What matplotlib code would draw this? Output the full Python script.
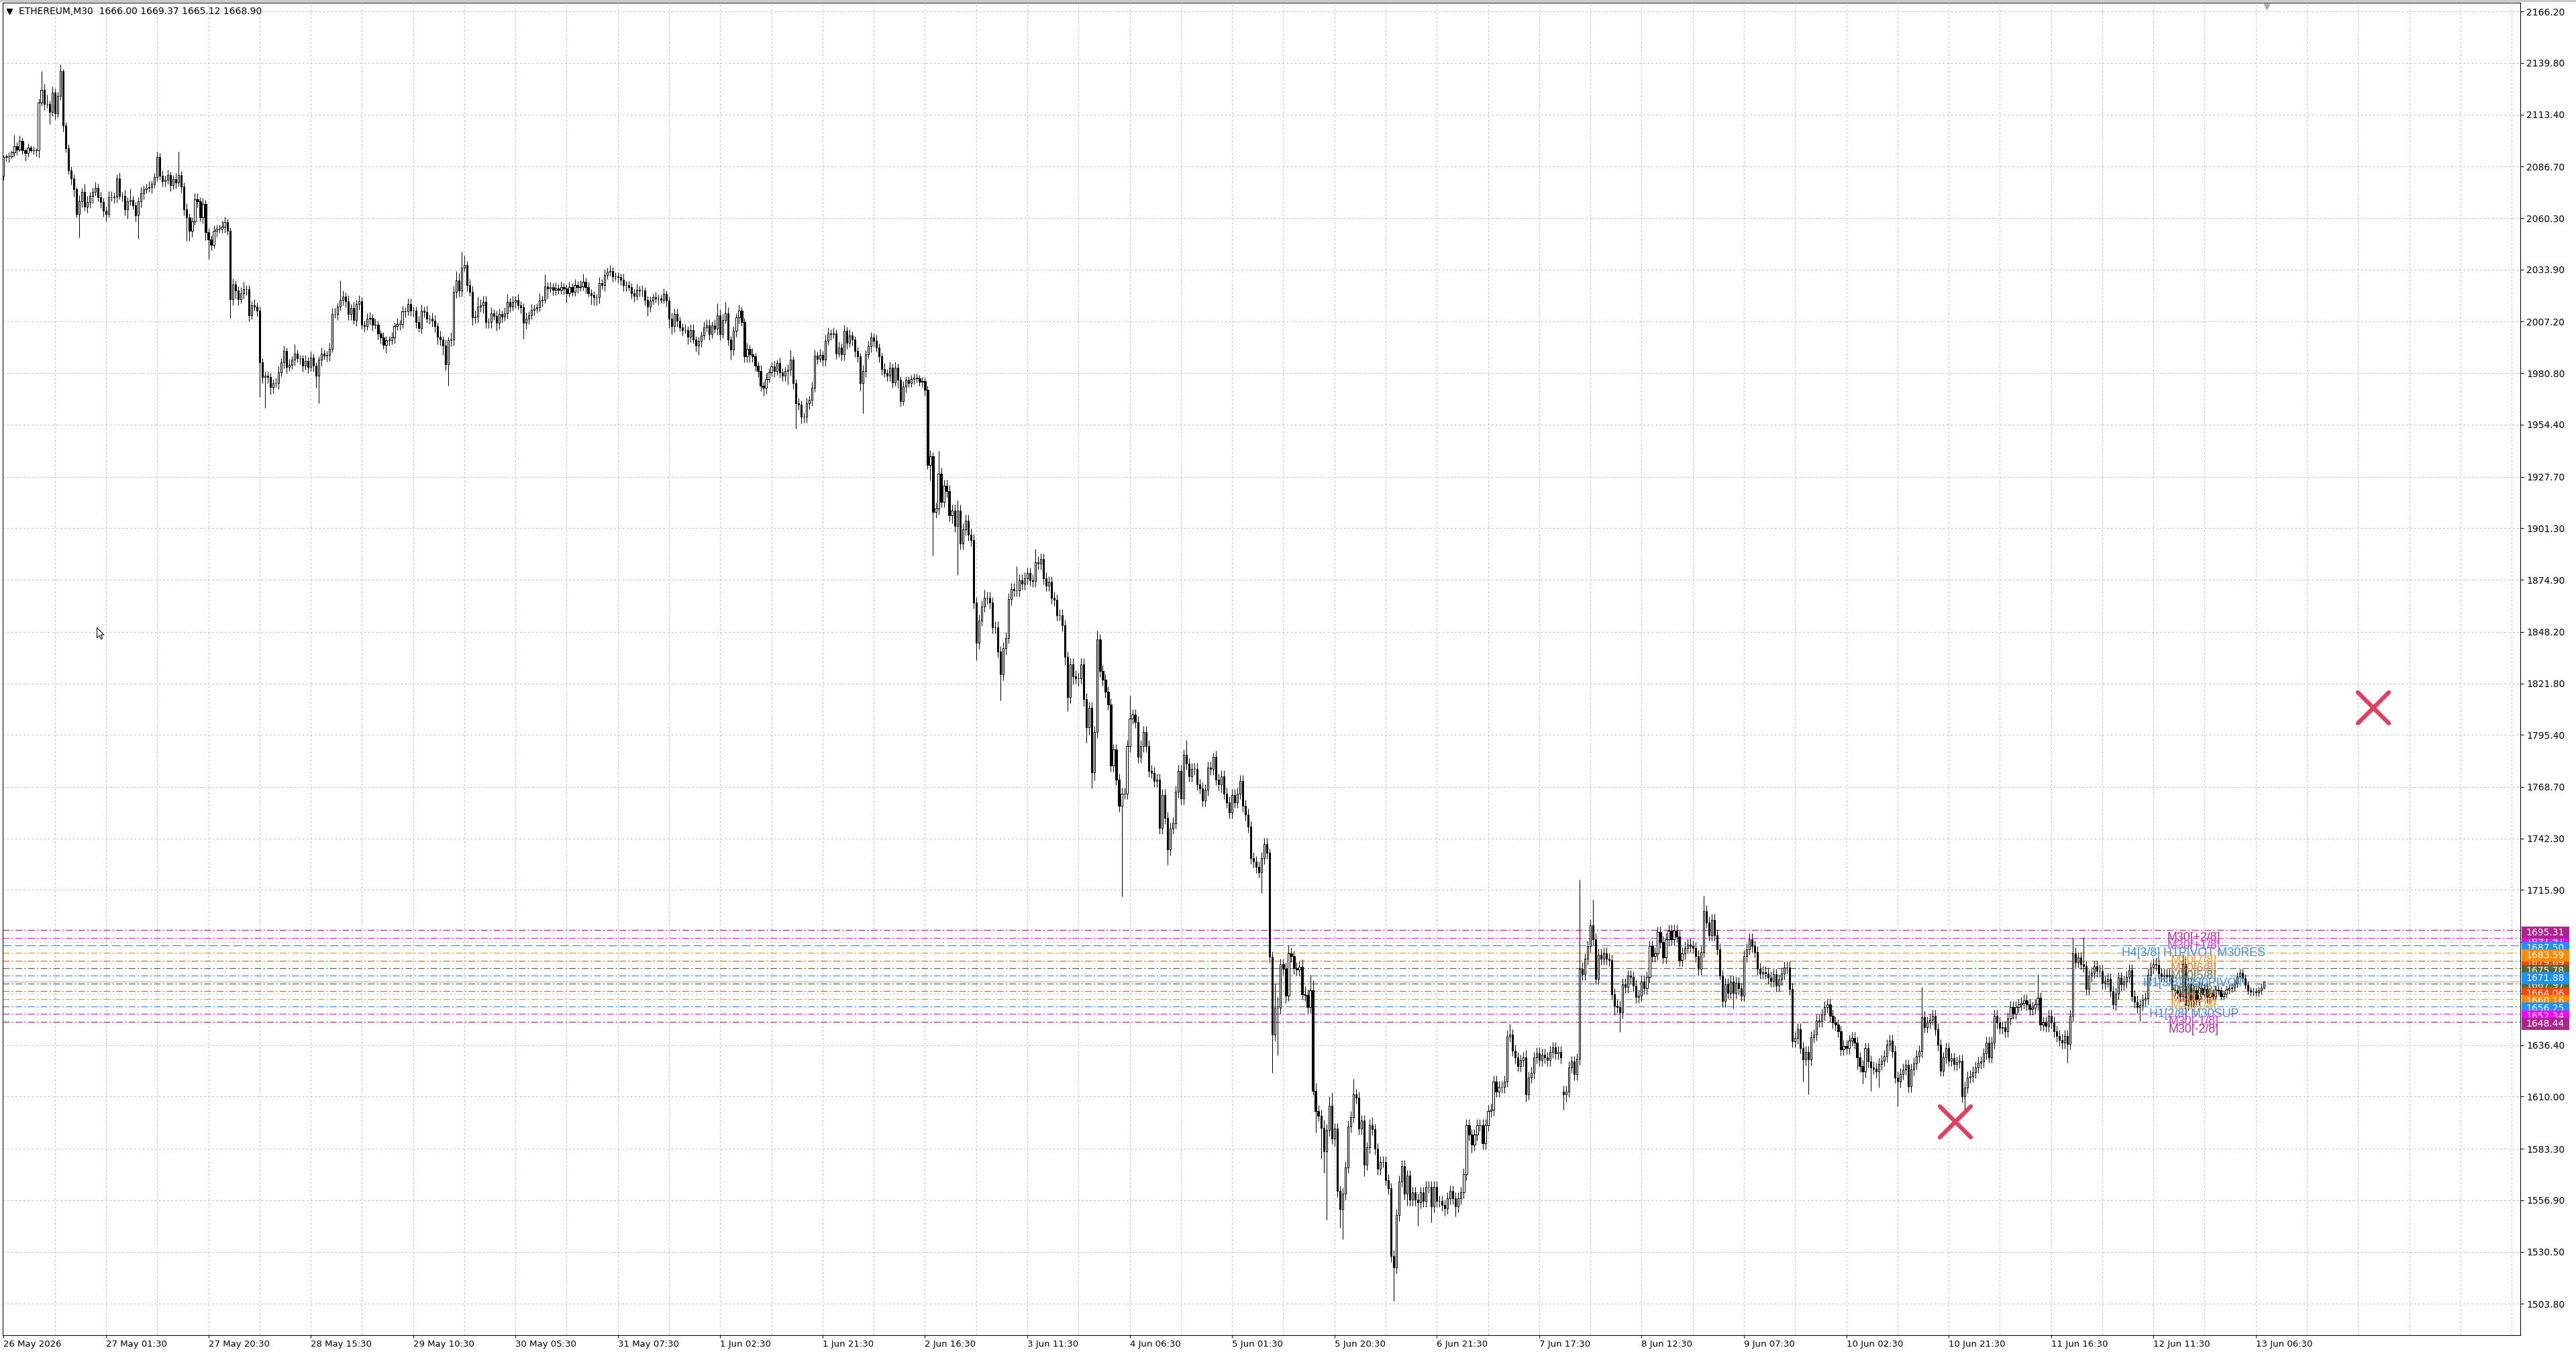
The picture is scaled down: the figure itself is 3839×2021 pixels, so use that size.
import numpy as np
import matplotlib
matplotlib.use("Agg")
import matplotlib.pyplot as plt
import matplotlib.transforms as mtransforms
from matplotlib.markers import MarkerStyle
from matplotlib.patches import Rectangle
from matplotlib.path import Path

# ---- chart data (ETHEREUM, M30) ----
symbol = "ETHEREUM,M30"
last_ohlc = [1666.00, 1669.37, 1665.12, 1668.90]
first_open = 2082.0
gap_opens = {579: 1612.5}

closes = [
    2091.7, 2092.0, 2092.0, 2094.0, 2097.0, 2095.5, 2099.7, 2094.9, 2093.6, 2096.5, 2095.0, 2095.0, 2094.9, 2119.6, 2126.0, 2118.6, 2118.6, 2114.5, 2124.7, 2114.0,
    2122.8, 2135.5, 2107.6, 2096.0, 2084.7, 2080.5, 2075.2, 2062.5, 2068.9, 2073.7, 2066.0, 2068.6, 2071.7, 2073.7, 2075.8, 2070.8, 2068.6, 2064.0, 2062.5, 2071.0,
    2071.0, 2071.3, 2080.7, 2071.8, 2071.8, 2064.8, 2068.9, 2069.5, 2066.7, 2061.6, 2068.9, 2073.0, 2075.2, 2075.8, 2076.1, 2077.7, 2081.3, 2091.5, 2081.8, 2079.3,
    2080.0, 2082.2, 2077.0, 2080.3, 2078.6, 2082.4, 2076.5, 2064.7, 2060.6, 2053.6, 2058.7, 2070.1, 2068.9, 2060.6, 2067.6, 2053.0, 2049.2, 2046.7, 2053.6, 2054.9,
    2054.9, 2055.8, 2058.1, 2053.6, 2018.7, 2026.3, 2023.2, 2018.7, 2021.9, 2023.8, 2023.8, 2010.5, 2015.6, 2014.9, 2013.0, 1986.4, 1978.8, 1979.4, 1978.8, 1973.7,
    1975.6, 1975.6, 1981.3, 1986.4, 1992.1, 1983.8, 1985.0, 1987.6, 1990.8, 1988.3, 1988.3, 1984.5, 1987.0, 1983.8, 1988.9, 1984.5, 1979.4, 1987.6, 1990.8, 1989.8,
    1990.2, 1993.4, 2011.1, 2011.1, 2014.9, 2018.5, 2020.0, 2017.7, 2011.1, 2014.3, 2007.9, 2016.2, 2017.7, 2005.6, 2004.8, 2008.6, 2009.0, 2005.6, 2005.6, 2001.0,
    1999.0, 1995.3, 1997.8, 1997.8, 1999.0, 2004.8, 2006.0, 2006.0, 2012.4, 2012.4, 2016.2, 2013.0, 2012.8, 2007.0, 2004.0, 2012.8, 2012.3, 2008.8, 2008.8, 2007.6,
    2004.8, 1999.6, 1997.9, 1995.0, 1985.3, 1997.6, 1998.0, 2022.5, 2028.2, 2023.0, 2035.0, 2036.2, 2025.9, 2022.5, 2009.3, 2009.8, 2015.0, 2015.6, 2017.3, 2007.0,
    2007.0, 2011.6, 2010.0, 2006.5, 2011.0, 2009.8, 2011.6, 2017.3, 2015.0, 2017.3, 2018.5, 2015.6, 2014.5, 2006.5, 2008.8, 2010.5, 2013.3, 2013.9, 2014.5, 2017.9,
    2018.5, 2025.3, 2024.2, 2024.8, 2023.6, 2024.2, 2023.6, 2024.8, 2024.2, 2021.9, 2024.8, 2022.5, 2025.9, 2024.8, 2025.3, 2027.6, 2024.8, 2021.9, 2020.8, 2019.6,
    2019.6, 2027.0, 2025.9, 2031.0, 2032.8, 2033.3, 2030.5, 2030.3, 2029.9, 2028.8, 2025.9, 2025.9, 2025.0, 2021.9, 2020.4, 2023.6, 2023.0, 2023.0, 2018.5, 2015.0,
    2017.9, 2019.6, 2019.0, 2019.0, 2018.5, 2021.3, 2017.9, 2008.8, 2004.8, 2011.0, 2007.6, 2004.2, 2003.0, 2003.0, 1999.6, 2003.0, 1997.9, 1995.0, 1997.3, 2000.2,
    2004.2, 2005.3, 2000.8, 2005.3, 2003.6, 2010.5, 2000.8, 2008.2, 2011.6, 1997.9, 1992.8, 2002.5, 2009.3, 2012.8, 2007.0, 1989.3, 1993.3, 1990.5, 1989.3, 1984.8,
    1981.9, 1974.5, 1973.3, 1977.9, 1981.3, 1984.2, 1981.9, 1985.9, 1981.3, 1979.6, 1981.9, 1982.5, 1987.6, 1975.6, 1965.3, 1964.8, 1958.5, 1958.5, 1965.3, 1967.0,
    1973.3, 1989.9, 1988.2, 1990.2, 1987.6, 1997.3, 2001.3, 2000.8, 2001.3, 1991.0, 1993.9, 1990.5, 2002.5, 1996.2, 2000.2, 1997.9, 1992.2, 1989.3, 1975.6, 1981.9,
    1990.5, 1994.5, 1999.0, 1997.3, 1993.9, 1989.3, 1983.0, 1980.8, 1979.6, 1983.6, 1976.2, 1983.6, 1977.3, 1966.5, 1973.9, 1977.3, 1975.6, 1977.9, 1978.5, 1978.0,
    1976.5, 1976.8, 1972.2, 1933.8, 1938.3, 1909.7, 1911.4, 1929.4, 1915.0, 1923.1, 1920.4, 1907.9, 1910.5, 1902.5, 1910.5, 1893.5, 1900.7, 1905.2, 1898.0, 1895.3,
    1863.1, 1842.5, 1854.1, 1861.3, 1865.7, 1865.7, 1863.1, 1850.5, 1850.5, 1838.0, 1826.3, 1839.8, 1845.1, 1864.9, 1870.2, 1869.3, 1869.3, 1874.7, 1872.9, 1875.6,
    1878.3, 1874.7, 1874.2, 1884.0, 1883.1, 1885.5, 1875.6, 1872.0, 1873.8, 1865.7, 1864.5, 1856.8, 1856.8, 1851.4, 1835.3, 1814.7, 1831.7, 1825.4, 1824.5, 1824.5,
    1831.7, 1813.8, 1799.4, 1809.3, 1776.1, 1796.8, 1844.2, 1828.1, 1823.6, 1817.4, 1811.1, 1779.7, 1787.8, 1772.6, 1759.1, 1765.4, 1765.4, 1789.6, 1803.9, 1805.7,
    1802.1, 1784.2, 1789.6, 1796.8, 1789.6, 1777.0, 1776.0, 1771.7, 1772.6, 1747.6, 1764.5, 1752.8, 1736.7, 1747.5, 1750.2, 1766.3, 1777.0, 1762.7, 1785.1, 1780.6,
    1774.3, 1777.9, 1777.9, 1769.9, 1768.1, 1761.8, 1767.2, 1778.8, 1777.9, 1784.2, 1772.6, 1769.9, 1774.3, 1765.4, 1760.9, 1755.5, 1764.5, 1760.9, 1765.4, 1771.7,
    1759.1, 1754.6, 1748.3, 1732.2, 1730.4, 1727.6, 1725.1, 1732.2, 1739.4, 1734.9, 1681.5, 1641.8, 1655.6, 1655.6, 1677.8, 1675.4, 1661.8, 1683.4, 1681.9, 1675.8,
    1675.2, 1676.4, 1662.5, 1661.9, 1655.7, 1664.5, 1612.9, 1602.7, 1600.3, 1594.1, 1581.8, 1592.9, 1605.2, 1588.6, 1593.5, 1561.5, 1552.2, 1560.2, 1573.8, 1594.7,
    1599.6, 1611.0, 1609.5, 1593.5, 1597.6, 1575.2, 1583.9, 1595.4, 1593.2, 1583.2, 1573.0, 1576.6, 1576.6, 1567.3, 1562.9, 1528.3, 1522.5, 1549.2, 1566.6, 1574.5,
    1560.1, 1569.4, 1557.2, 1560.8, 1557.2, 1555.7, 1560.8, 1556.4, 1563.7, 1563.7, 1553.6, 1563.7, 1556.4, 1556.4, 1554.3, 1552.8, 1557.9, 1561.5, 1557.9, 1553.6,
    1557.9, 1560.8, 1570.2, 1595.4, 1590.4, 1585.3, 1590.4, 1595.4, 1595.4, 1586.0, 1595.4, 1602.6, 1603.3, 1617.8, 1612.7, 1614.9, 1614.9, 1617.8, 1640.9, 1641.6,
    1633.6, 1630.0, 1625.7, 1628.6, 1630.0, 1611.3, 1619.9, 1622.1, 1630.0, 1632.2, 1628.6, 1631.5, 1630.0, 1628.6, 1632.9, 1635.1, 1632.2, 1632.9, 1630.0, 1611.3,
    1612.7, 1625.0, 1627.9, 1621.4, 1629.3, 1675.5, 1672.6, 1680.5, 1687.0, 1697.9, 1690.6, 1670.4, 1682.7, 1680.5, 1683.4, 1680.5, 1679.8, 1662.5, 1656.7, 1656.0,
    1653.1, 1667.6, 1666.1, 1671.9, 1671.2, 1666.8, 1661.1, 1661.8, 1669.0, 1665.4, 1671.2, 1687.0, 1682.0, 1683.4, 1694.3, 1689.2, 1681.3, 1690.6, 1695.0, 1690.6,
    1695.0, 1692.1, 1679.8, 1683.4, 1686.3, 1687.8, 1687.0, 1686.3, 1682.0, 1675.5, 1684.2, 1705.1, 1699.3, 1692.8, 1700.7, 1692.8, 1685.6, 1671.9, 1658.9, 1667.6,
    1663.2, 1669.0, 1663.2, 1668.3, 1665.4, 1661.8, 1682.0, 1685.6, 1690.6, 1687.0, 1684.2, 1675.5, 1673.2, 1673.8, 1673.2, 1671.0, 1669.2, 1672.6, 1666.9, 1669.8,
    1673.0, 1676.1, 1676.1, 1665.2, 1638.2, 1640.0, 1644.5, 1635.0, 1629.1, 1633.0, 1629.0, 1640.5, 1641.6, 1649.1, 1648.5, 1652.0, 1656.0, 1657.1, 1651.4, 1648.0,
    1646.8, 1643.4, 1634.2, 1636.0, 1634.8, 1638.8, 1640.0, 1637.7, 1630.0, 1625.6, 1622.7, 1634.8, 1628.0, 1625.0, 1624.4, 1622.7, 1626.7, 1628.5, 1630.8, 1636.5,
    1638.8, 1633.1, 1619.9, 1617.6, 1621.6, 1624.0, 1626.2, 1615.3, 1623.9, 1627.0, 1630.8, 1633.1, 1650.8, 1645.7, 1648.0, 1649.5, 1651.4, 1644.5, 1636.5, 1623.3,
    1630.0, 1634.8, 1628.5, 1629.6, 1626.7, 1627.5, 1628.5, 1610.1, 1614.7, 1619.9, 1620.4, 1622.5, 1625.0, 1627.3, 1627.9, 1632.0, 1637.6, 1630.2, 1637.6, 1651.4,
    1648.0, 1645.1, 1645.7, 1643.4, 1650.0, 1656.0, 1652.6, 1656.0, 1657.1, 1658.0, 1659.4, 1657.1, 1654.9, 1655.5, 1657.1, 1660.6, 1646.8, 1648.0, 1646.3, 1651.4,
    1648.0, 1643.4, 1641.1, 1639.0, 1637.6, 1641.1, 1637.1, 1651.4, 1683.5, 1679.0, 1681.2, 1678.0, 1676.7, 1665.2, 1672.1, 1673.5, 1676.7, 1674.4, 1674.4, 1668.1,
    1669.2, 1670.3, 1664.0, 1657.2, 1662.9, 1670.9, 1667.5, 1669.0, 1671.5, 1674.9, 1661.5, 1658.6, 1655.7, 1657.0, 1659.5, 1660.3, 1672.4, 1676.0, 1678.0, 1677.5,
    1673.2, 1671.8, 1672.4, 1671.8, 1672.4, 1664.9, 1664.3, 1663.2, 1661.5, 1678.0, 1657.0, 1668.0, 1659.0, 1664.5, 1660.0, 1666.0, 1662.5, 1665.0, 1661.0, 1663.0,
    1661.5, 1664.9, 1664.3, 1661.5, 1662.6, 1664.9, 1665.5, 1666.0, 1668.0, 1671.8, 1673.5, 1670.6, 1667.2, 1664.3, 1663.8, 1663.8, 1663.5, 1664.3, 1666.0, 1668.9,
]

# wick lengths above / below the body, in price units
upper_wick = [
    1, 1, 2, 1, 6, 2, 3, 2, 1, 2, 1, 2, 1, 2, 9.5, 3, 5, 2, 3, 2,
    2, 3.5, 1, 2, 2, 2, 2, 1, 3, 2, 4, 3, 2, 2, 3, 2, 3, 2, 2, 3,
    3, 2, 2, 3, 2, 3, 2, 6, 2, 2, 2, 3, 2, 2, 3, 2, 2, 2.7, 2, 3,
    2, 3, 2, 2, 3, 12, 2, 2, 3, 2, 2, 3, 3, 2, 3, 2, 2, 2, 3, 2,
    2, 3, 3, 2, 2, 3, 2, 2, 3, 3.8, 2, 2, 2, 3, 2, 2, 2, 2, 2, 2,
    2, 3, 3, 2, 3, 2, 3, 2, 5, 2, 2, 2, 3, 2, 3, 2, 2, 2, 3, 2,
    2, 3, 3, 3, 2, 9.7, 3, 2, 3, 2, 3, 2, 3, 2, 2, 3, 3, 2, 3, 2,
    2, 3, 2, 2, 3, 2, 3, 2, 3, 2, 3, 3, 2, 2, 3, 3, 2, 3, 2, 3,
    3, 2, 3, 2, 3, 2, 4, 3, 5, 4, 8, 5, 2, 3, 3, 3, 5, 3, 3, 3,
    2, 3, 2, 3, 3, 2, 3, 4, 2, 3, 2, 3, 2, 2, 3, 2, 3, 2, 2, 4,
    2, 6, 2, 3, 2, 3, 2, 3, 2, 2, 3, 2, 3, 2, 3, 4, 2, 3, 2, 2,
    2, 3, 2, 3, 2, 3, 2, 2, 2, 2, 3, 2, 2, 2, 2, 3, 2, 3, 2, 2,
    2, 2, 3, 2, 2, 3, 2, 2, 3, 3, 3, 2, 2, 3, 2, 3, 3, 2, 2, 2,
    3, 3, 3, 2, 3, 6, 3, 3, 5.7, 3, 2, 2, 2, 3, 2, 2, 3, 2, 3, 2,
    2, 3, 2, 3, 2, 2, 3, 2, 3, 2, 2, 3, 5, 2, 2, 3, 2, 2, 3, 2,
    3, 3, 2, 3, 2, 3, 3, 2, 3, 2, 3, 2, 3, 2, 3, 2, 2, 2, 2, 3,
    2, 3, 3, 2, 3, 2, 2, 3, 2, 3, 2, 3, 2, 2, 3, 2, 2, 2, 2, 2,
    2, 2, 2, 2, 3, 2, 3, 11.6, 3, 3, 3, 3, 3, 3, 5, 3, 3, 3, 3, 3,
    3, 3, 3, 3, 4, 3, 3, 3, 3, 3, 3, 3, 3, 3, 3, 3, 12.6, 3, 3, 3,
    3, 3, 3, 6.8, 3, 3, 3, 3, 3, 3, 3, 3, 3, 3, 3, 3, 3, 3, 3, 3,
    3, 3, 3, 3, 3, 3, 4.5, 3, 3, 3, 3, 3, 3, 3, 3, 3, 3, 3, 11.7, 3,
    3, 3, 3, 3, 3, 3, 3, 3, 3, 3, 3, 3, 3, 3, 3, 3, 3, 3, 3, 7.8,
    3, 3, 3, 3, 3, 3, 3, 3, 3, 2, 3, 3, 3, 3, 3, 3, 3, 3, 3, 3,
    3, 3, 3, 3, 3, 3, 3, 3, 3, 3, 2, 3, 12.4, 5.6, 3, 3, 3, 4, 3, 3,
    3, 3, 4, 4, 3, 8, 5, 4, 3, 3, 4, 3, 5, 7, 3, 3, 3, 3, 3, 3,
    3, 8, 3, 3, 3, 3, 3, 3, 4, 3, 3, 3, 3, 3, 3, 3, 3, 3, 3, 3,
    3, 3, 3, 3, 3, 3, 3, 3, 3, 3, 3, 3, 3, 3, 3, 3, 3, 3, 3, 3,
    3, 3, 3, 3, 3, 3, 3, 3, 3, 3, 3, 3, 3, 3, 3, 3, 3, 3, 3, 5.8,
    3, 3, 3, 3, 3, 4, 3, 3, 3, 3, 3, 3, 3, 3, 3, 3, 3, 3, 3, 3,
    3, 3, 3, 3, 3, 45.7, 3, 3, 3, 3, 12.9, 3, 3, 3, 3, 3, 3, 3, 3, 3,
    3, 3, 3, 3, 3, 3, 3, 3, 3, 3, 3, 3, 3, 3, 3, 3, 3, 3, 3, 3,
    3, 3, 3, 3, 3, 3, 3, 3, 3, 3, 3, 8, 3, 3, 3, 3, 3, 3, 3, 3,
    3, 3, 3, 3, 3, 3, 3, 3, 3, 3, 3, 3, 3, 3, 3, 3, 3, 3, 3, 3,
    3, 3, 3, 3, 3, 3, 3, 3, 3, 3, 3, 3, 3, 3, 3, 3, 3, 3, 3, 3,
    3, 3, 3, 3, 3, 3, 3, 3, 3, 3, 3, 3, 3, 3, 3, 3, 3, 3, 3, 3,
    3, 3, 3, 3, 3, 3, 3, 3, 3, 3, 3, 3, 15.5, 3, 3, 3, 3, 3, 3, 3,
    3, 3, 3, 3, 3, 3, 3, 3, 3, 3, 3, 3, 3, 3, 3, 3, 3, 3, 3, 3,
    3, 3, 3, 3, 3, 3, 3, 3, 3, 3, 3, 3, 3, 3, 3, 12, 3, 3, 3, 3,
    3, 3, 3, 3, 3, 3, 3, 3, 8.1, 3, 3, 3, 13.6, 3, 3, 3, 3, 3, 3, 3,
    3, 3, 3, 3, 3, 3, 3, 3, 3, 3, 3, 3, 3, 3, 3, 3, 3, 3, 3, 3,
    3, 3, 3, 3, 3, 3, 3, 3, 3, 5, 3, 3, 3, 3, 3, 3, 3, 3, 3, 3,
    2, 2, 2, 2, 2, 2, 2, 2, 2, 2, 2, 2, 2, 2, 2, 2, 2, 2, 2, 0.47,
]

lower_wick = [
    2, 2, 3, 1, 2, 3, 1, 2, 4, 2, 1, 2, 3, 3.6, 2, 3, 2, 6, 2, 3,
    2, 2, 3, 2, 2, 3, 4, 2, 12, 3, 2, 3, 3, 4, 2, 2, 3, 3, 4, 2,
    2, 3, 3, 2, 3, 3, 5, 2, 2, 3, 11.8, 3, 3, 2, 2, 3, 2, 2, 2, 3,
    3, 2, 3, 2, 3, 2, 3, 3, 12, 5, 3, 2, 3, 2, 3, 4, 10, 3, 2, 3,
    2, 2, 3, 2, 9.5, 3, 4, 3, 2, 3, 3, 3, 2, 2, 3, 17.8, 3, 15.8, 3, 4,
    3, 2, 3, 2, 3, 3, 2, 2, 3, 2, 3, 3, 2, 3, 2, 3, 6, 14, 3, 2,
    3, 3, 2, 2, 3, 2, 3, 3, 3, 3, 2, 3, 3, 2, 3, 2, 3, 3, 2, 3,
    3, 2, 4, 3, 2, 3, 2, 3, 2, 3, 2, 3, 3, 3, 2, 3, 3, 2, 3, 3,
    3, 4, 3, 5, 3, 11, 3, 3, 3, 3, 3, 2, 3, 2, 4, 3, 3, 3, 4, 3,
    3, 3, 2, 4, 3, 3, 2, 3, 3, 2, 3, 2, 3, 8, 3, 3, 2, 3, 2, 2,
    3, 2, 5, 2, 3, 3, 2, 2, 3, 5, 2, 2, 2, 3, 2, 2, 3, 2, 5, 4,
    4, 3, 2, 3, 2, 2, 3, 2, 3, 3, 3, 3, 2, 3, 3, 2, 3, 3, 3, 5,
    3, 2, 2, 3, 2, 2, 3, 5, 4, 3, 3, 2, 3, 2, 4, 3, 2, 3, 5, 3,
    2, 2, 3, 2, 2, 3, 3, 2, 2, 3, 5, 3, 3, 3, 2, 3, 3, 4, 3, 3,
    3, 3, 4, 3, 2, 2, 3, 2, 3, 3, 3, 7, 3, 3, 13, 3, 3.5, 3, 3, 3,
    3, 2, 3, 2, 3, 3, 2, 3, 2, 3, 2, 3, 3, 3, 2, 3, 3, 3, 4, 15.4,
    3, 2, 3, 3, 2, 3, 3, 2, 3, 3, 3, 2, 4, 3, 2, 3, 2, 2, 3, 2,
    2, 3, 3, 2, 8, 22.4, 3, 3, 3, 3, 3, 3, 4, 3, 25, 3, 3, 3, 3, 3,
    3, 9, 3, 3, 3, 3, 3, 3, 3, 3, 13.4, 3, 3, 3, 3, 3, 3, 3, 3, 3,
    3, 3, 3, 3, 3, 3, 3, 3, 3, 3, 3, 3, 3, 3, 4, 7.2, 3, 4, 3, 4,
    3, 4, 8, 4, 8, 4, 3, 3, 3, 3, 3, 3, 3, 3, 3, 46.6, 3, 3, 3, 3,
    3, 3, 3, 3, 3, 3, 3, 3, 3, 3, 3, 3, 8, 3, 3, 3, 3, 3, 3, 3,
    3, 3, 3, 3, 3, 3, 3, 3, 3, 3, 3, 3, 4, 3, 3, 3, 3, 3, 3, 3,
    3, 3, 3, 3, 3, 3, 3, 10.8, 3, 3, 3, 19.8, 3, 24.6, 3, 3, 4, 3, 3, 3,
    3, 3, 3, 3, 3, 3, 2, 11, 3, 16, 11, 35, 3, 3, 4, 3, 9.6, 15.4, 3, 3,
    3, 3, 3, 3, 3, 6, 3, 3, 3, 3, 3, 3, 3, 3, 3, 3, 17.2, 3, 3, 3,
    3, 6, 3, 3, 3, 12, 3, 3, 3, 3, 8, 3, 3, 3, 3, 4, 3, 3, 3, 5,
    3, 3, 3, 3, 3, 4, 3, 3, 3, 3, 3, 3, 3, 3, 3, 3, 3, 3, 3, 3,
    3, 3, 3, 3, 3, 4, 3, 3, 3, 3, 3, 3, 3, 3, 3, 3, 3, 3, 3, 8,
    4, 3, 3, 3, 3, 3, 3, 3, 3, 3, 3, 3, 3, 3, 3, 3, 3, 3, 5, 3,
    10, 3, 3, 3, 3, 3, 3, 3, 3, 3, 3, 3, 3, 3, 3, 3, 3, 3, 3, 3,
    3, 3, 3, 3, 3, 3, 3, 3, 3, 3, 3, 3, 3, 3, 3, 3, 3, 2, 3, 3,
    3, 3, 8, 3, 3, 3, 3, 3, 3, 3, 3, 3, 3, 3, 3, 3, 3, 3, 3, 3,
    3, 3, 3, 3, 3, 3, 3, 3, 11.5, 3, 17.7, 3, 3, 3, 3, 3, 3, 3, 3, 3,
    3, 3, 3, 3, 3, 3, 3, 3, 6, 3, 6, 3, 3, 12, 3, 3, 8, 3, 3, 3,
    3, 3, 3, 12.7, 3, 3, 3, 3, 3, 3, 3, 3, 3, 3, 3, 3, 3, 3, 3, 3,
    3, 3, 3, 3, 3, 3, 3, 3, 9.2, 3, 3, 3, 3, 3, 3, 3, 3, 3, 3, 3,
    3, 3, 3, 3, 3, 3, 3, 3, 3, 3, 3, 3, 3, 3, 3, 3, 3, 3, 3, 3,
    3, 3, 3, 3, 3, 3, 9.8, 3, 3, 3, 3, 3, 3, 3, 3, 3, 3, 3, 3, 3,
    3, 3, 3, 2.3, 3, 3, 3, 3, 3, 3, 3, 3, 3, 7, 3, 3, 3, 3, 3, 3,
    3, 3, 3, 3, 3, 3, 3, 3, 3, 3, 6, 3, 3, 3, 3, 3, 3, 3, 3, 3,
    2, 2, 2, 2, 2, 2, 2, 2, 2, 2, 2, 2, 2, 2, 2, 2, 2, 2, 2, 0.88,
]

date_labels = [
    "26 May 2026", "27 May 01:30", "27 May 20:30", "28 May 15:30", "29 May 10:30",
    "30 May 05:30", "31 May 07:30", "1 Jun 02:30", "1 Jun 21:30", "2 Jun 16:30",
    "3 Jun 11:30", "4 Jun 06:30", "5 Jun 01:30", "5 Jun 20:30", "6 Jun 21:30",
    "7 Jun 17:30", "8 Jun 12:30", "9 Jun 07:30", "10 Jun 02:30", "10 Jun 21:30",
    "11 Jun 16:30", "12 Jun 11:30", "13 Jun 06:30",
]
label_step = 38
grid_step = 19

price_ticks = [2166.20, 2139.80, 2113.40, 2086.70, 2060.30, 2033.90, 2007.20, 1980.80,
               1954.40, 1927.70, 1901.30, 1874.90, 1848.20, 1821.80, 1795.40, 1768.70,
               1742.30, 1715.90, 1689.20, 1662.80, 1636.40, 1610.00, 1583.30, 1556.90,
               1530.50, 1503.80]

# Murrey-math style levels
levels = [1695.31, 1691.41, 1687.50, 1683.59, 1679.69, 1675.78, 1671.88,
          1667.97, 1664.06, 1660.16, 1656.25, 1652.34, 1648.44]
level_names = ["M30[+2/8]", "M30[+1/8]", "H4[3/8] H1PIVOT M30RES", "M30[7/8]",
               "M30[6/8]", "M30[5/8]", "H1[3/8] M30PIVOT", "M30[3/8]", "M30[2/8]",
               "M30[1/8]", "H1[2/8] M30SUP", "M30[-1/8]", "M30[-2/8]"]
level_line_colors = ["#a8288e", "#e024e0", "#3a8ee0", "#e0a030", "#e4642c", "#55693a",
                     "#3a8ee0", "#55693a", "#e4642c", "#e0a030", "#3a8ee0", "#e024e0", "#a8288e"]
level_text_colors = ["#b52d98", "#e030e0", "#3d8fe2", "#f09a2a", "#ea7a34", "#6b7b4e",
                     "#3d8fe2", "#6b7b4e", "#ea7a34", "#f09a2a", "#3d8fe2", "#e030e0", "#b52d98"]
level_box_colors = ["#b0228e", "#ff00ff", "#1e90ff", "#ff8c00", "#ff4500", "#556b2f",
                    "#1e90ff", "#556b2f", "#ff4500", "#ff8c00", "#1e90ff", "#ff00ff", "#b0228e"]
box_draw_order = [1, 2, 4, 5, 7, 8, 9, 10, 11, 12, 6, 3, 0]
label_bar = 813

cross_bars = [724.4, 879.6]
cross_prices = [1597.1, 1809.4]
cursor_bar, cursor_price = 34.5, 1850.6
shift_bar = 840

# ---- build OHLC ----
closes = np.array(closes)
n = len(closes)
opens = np.empty(n)
opens[0] = first_open
opens[1:] = closes[:-1]
for k, v in gap_opens.items():
    opens[k] = v
highs = np.maximum(opens, closes) + np.array(upper_wick)
lows = np.minimum(opens, closes) - np.array(lower_wick)
x = np.arange(n)

plt.rcParams["font.family"] = "DejaVu Sans"
plt.rcParams["lines.scale_dashes"] = False

W, H = 3839, 2021
fig = plt.figure(figsize=(W / 100, H / 100), dpi=100)
fig.patch.set_facecolor("white")
ax = fig.add_axes([3.5 / W, 1 - 1990 / H, (3756 - 3.5) / W, (1990 - 4) / H])
ax.set_xlim(-0.47, 934.2)
ax.set_ylim(1487.7, 2170.7)

# grid
ax.set_yticks(price_ticks)
ax.set_yticklabels([f"{v:.2f}" for v in price_ticks])
ax.yaxis.tick_right()
ax.set_xticks(range(0, n, label_step))
ax.set_xticklabels(date_labels, ha="left")
ax.set_xticks(range(grid_step, 935, grid_step), minor=True)
ax.xaxis.remove_overlapping_locs = False
grid_kw = dict(color="#c4c4c4", linewidth=0.75, linestyle=(0, (2.2, 2.2)))
ax.grid(True, axis="y", which="major", **grid_kw)
ax.grid(True, axis="x", which="minor", **grid_kw)
ax.tick_params(axis="y", direction="out", length=3.6, width=0.75, pad=2.9,
               labelsize=10, colors="black")
ax.tick_params(axis="x", which="major", direction="out", length=3, width=0.75,
               pad=2, labelsize=9.5)
ax.tick_params(axis="x", which="minor", length=0)
for sp in ax.spines.values():
    sp.set_linewidth(0.75)
    sp.set_color("black")

# level lines and bid line
for lv, col in zip(levels, level_line_colors):
    style = (0, (9, 4)) if lv == 1687.50 else (0, (7, 2.5, 1.5, 2.5))
    ax.axhline(lv, color=col, linewidth=0.9, linestyle=style, zorder=2)
ax.axhline(last_ohlc[3], color="#bdbdbd", linewidth=1.0, zorder=2.2)

# candles
up = closes >= opens
ax.vlines(x, lows, highs, color="black", linewidth=0.75, zorder=3)
ax.bar(x[up], (closes - opens)[up], bottom=opens[up], width=0.55,
       facecolor="white", edgecolor="black", linewidth=0.75, zorder=4)
ax.bar(x[~up], (opens - closes)[~up], bottom=closes[~up], width=0.55,
       facecolor="black", edgecolor="black", linewidth=0.75, zorder=4)

# level names
for lv, name, col in zip(levels, level_names, level_text_colors):
    ax.text(label_bar, lv - 1.0, name, color=col, fontsize=12.8,
            family="Liberation Sans", ha="center", va="top", zorder=6)

# price boxes on the right scale
trans = mtransforms.blended_transform_factory(ax.transAxes, ax.transData)
bx0, bw, bh = (3758 - 3.5) / (3756 - 3.5), 71 / (3756 - 3.5), 6.2
for k, i in enumerate(box_draw_order):
    yc = levels[i] - 1.2
    ax.add_patch(Rectangle((bx0, yc - bh / 2), bw, bh, transform=trans,
                           facecolor=level_box_colors[i], edgecolor="none",
                           clip_on=False, zorder=10 + k))
    ax.text(bx0 + bw / 2, yc, f"{levels[i]:.2f}", transform=trans, color="white",
            fontsize=10, ha="center", va="center", clip_on=False, zorder=10.5 + k)

# crosses
ax.plot(cross_bars, cross_prices, linestyle="none",
        marker=MarkerStyle("x", capstyle="round"), markersize=33,
        markeredgewidth=4.5, color="#e2405f", zorder=8)

# mouse pointer
cursor_path = Path([(0, 0), (0, -16), (3.8, -12.4), (6.5, -18), (8.8, -17),
                    (6.2, -11.4), (11, -11.4), (0, 0)],
                   [Path.MOVETO] + [Path.LINETO] * 6 + [Path.CLOSEPOLY])
ax.plot([cursor_bar], [cursor_price], marker=cursor_path, markersize=24.5,
        markerfacecolor="white", markeredgecolor="black", markeredgewidth=0.75,
        linestyle="none", zorder=9)

# chart shift marker and header
ax.plot([shift_bar], [0.997], marker="v", markersize=6, color="#a8a8a8",
        transform=mtransforms.blended_transform_factory(ax.transData, ax.transAxes),
        clip_on=False, zorder=9)
ax.plot([0.0028], [0.9937], marker="v", markersize=6, color="black",
        transform=ax.transAxes, clip_on=False, zorder=9)
header = symbol + "  " + " ".join(f"{v:.2f}" for v in last_ohlc)
fig.text(28 / W, 1 - 17 / H, header, fontsize=10, ha="left", va="center")
fig.add_artist(Rectangle((0, 1 - 3 / H), 1, 3 / H, transform=fig.transFigure,
                         facecolor="#c8c8c8", edgecolor="none"))

fig.savefig("out.png", dpi=100, facecolor="white")
